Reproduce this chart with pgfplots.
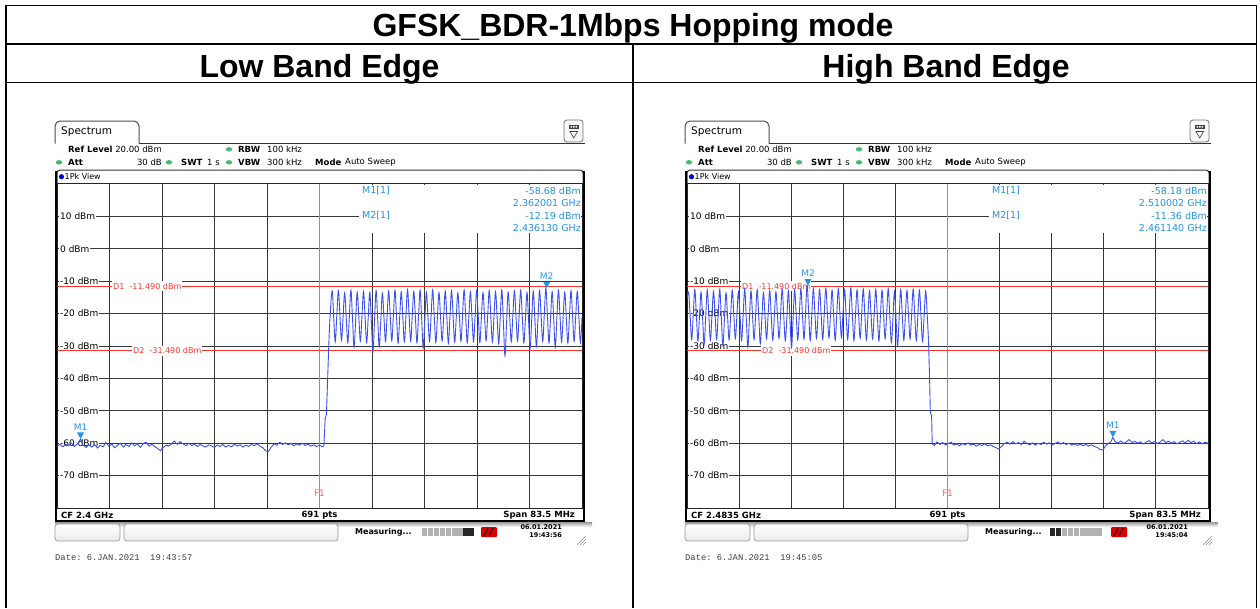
\documentclass[border=0pt]{standalone}
\usepackage{fontspec}
\setmainfont{Liberation Sans}
\newfontfamily\dv{DejaVu Sans}
\newfontfamily\mono{Liberation Mono}
\usepackage{pgfplots}
\pgfplotsset{compat=1.18}
\definecolor{trace}{RGB}{60,80,238}
\definecolor{dline}{RGB}{250,55,45}
\definecolor{mk}{RGB}{35,150,225}
\definecolor{fone}{RGB}{255,100,100}
\definecolor{led}{RGB}{70,185,110}
\newcommand\fs[1]{\fontsize{#1pt}{#1pt}\selectfont}
\pgfplotsset{spec/.style={scale only axis, height=324pt, ymin=-80, ymax=20,
  ytick={-70,-60,...,10}, grid=major, major grid style={black!78, line width=0.9pt},
  xticklabels={}, yticklabels={}, major tick length=0pt,
  axis line style={black!85, line width=1pt}, anchor=south west}}
\tikzset{lbl/.style={anchor=west, inner sep=0pt, font=\dv\fs{8.5}},
  lbb/.style={lbl, font=\dv\bfseries\fs{8.5}},
  mt/.style={anchor=west, inner sep=0pt, font=\dv\fs{9.5}, text=mk},
  yl/.style={anchor=west, xshift=2pt, fill=white, inner xsep=1pt, inner ysep=1.5pt, font=\dv\fs{9}},
  dl/.style={anchor=west, fill=white, inner xsep=1pt, inner ysep=2pt, text=dline, font=\dv\fs{8}}}
\newcommand\ylabels{%
  \node[yl] at (rel axis cs:0,0.9) {10 dBm};
  \node[yl] at (rel axis cs:0,0.8) {0 dBm};
  \node[yl] at (rel axis cs:0,0.7) {-10 dBm};
  \node[yl] at (rel axis cs:0,0.6) {-20 dBm};
  \node[yl] at (rel axis cs:0,0.5) {-30 dBm};
  \node[yl] at (rel axis cs:0,0.4) {-40 dBm};
  \node[yl] at (rel axis cs:0,0.3) {-50 dBm};
  \node[yl] at (rel axis cs:0,0.2) {-60 dBm};
  \node[yl] at (rel axis cs:0,0.1) {-70 dBm};}
\newcommand\dlines[2]{%
  \draw[dline, line width=1pt] (rel axis cs:0,0.6851) -- (rel axis cs:1,0.6851);
  \draw[dline, line width=1pt] (rel axis cs:0,0.4851) -- (rel axis cs:1,0.4851);
  \node[dl] at ([xshift=#1pt]rel axis cs:0,0.6851) {D1\ \ -11.490 dBm};
  \node[dl] at ([xshift=#2pt]rel axis cs:0,0.4851) {D2\ \ -31.490 dBm};}
\newcommand\mkr[3]{%
  \fill[mk] (axis cs:#1,#2) -- ([xshift=-3.5pt,yshift=6.5pt]axis cs:#1,#2) -- ([xshift=3.5pt,yshift=6.5pt]axis cs:#1,#2) -- cycle;
  \node[anchor=south, inner sep=0pt, text=mk, font=\dv\fs{9}] at ([yshift=8.5pt]axis cs:#1,#2) {#3};}
\newcommand\screen[9]{%
\begin{scope}[shift={(#1,0)}]
\draw[line width=1pt, black!70, rounded corners=5pt] (-2,-143.5) -- (-2,-121) -- (82,-121) -- (82,-143.5);
\node[lbl, font=\dv\fs{10.5}] at (4,-132) {Spectrum};
\draw[line width=1.6pt, black!80] (82,-143.5) -- ({#2+3},-143.5);
\draw[line width=0.8pt, black!55, fill=black!3, rounded corners=3pt] ({#2-18},-120) rectangle ({#2+1},-142);
\fill[black!75] ({#2-13},-124.5) rectangle ({#2-3.5},-129);
\fill[white] ({#2-11.5},-126) rectangle ({#2-10},-127.5) ({#2-9},-126) rectangle ({#2-7.5},-127.5) ({#2-6.5},-126) rectangle ({#2-5},-127.5);
\draw[black!75, line width=0.6pt] ({#2-12},-131.5) -- ({#2-4.5},-131.5) -- ({#2-8.25},-138) -- cycle;
\node[lbb] at (11,-149.3) {Ref Level};
\node[lbl, anchor=east] at (105,-149.3) {20.00 dBm};
\fill[led] (172,-149.3) ellipse (3.2pt and 2.2pt);
\node[lbb] at (181,-149.3) {RBW};
\node[lbl] at (210,-149.3) {100 kHz};
\fill[led] (2,-162.3) ellipse (3.2pt and 2.2pt);
\node[lbb] at (11,-162.3) {Att};
\node[lbl, anchor=east] at (105,-162.3) {30 dB};
\fill[led] (112,-162.3) ellipse (3.2pt and 2.2pt);
\node[lbb] at (124,-162.3) {SWT};
\node[lbl] at (150,-162.3) {1 s};
\fill[led] (172,-162.3) ellipse (3.2pt and 2.2pt);
\node[lbb] at (181,-162.3) {VBW};
\node[lbl] at (210,-162.3) {300 kHz};
\node[lbb] at (258,-162.3) {Mode};
\node[lbl] at (288,-162.3) {Auto Sweep};
\draw[line width=1pt, black!80, rounded corners=3pt] (0,-184) -- (0,-170) -- ({#2+1},-170) -- ({#2+1},-184);
\fill[blue!85!black] (4.5,-176.7) circle (2.6pt);
\node[lbl, font=\dv\fs{8}] at (7.5,-176.7) {1Pk View};
\fill[white] (302,-185) rectangle ({#2-0.6},-233);
\node[mt] at (305,-190.5) {M1[1]};
\node[mt] at (305,-215.5) {M2[1]};
\node[mt, anchor=east] at ({#2-1},-190.5) {#6};
\node[mt, anchor=east] at ({#2-1},-203) {#7};
\node[mt, anchor=east] at ({#2-1},-215.5) {#8};
\node[mt, anchor=east] at ({#2-1},-228) {#9};
\draw[line width=2.2pt, black] (-1,-171) -- (-1,-522);
\draw[line width=2.6pt, black] ({#2+1.8},-171) -- ({#2+1.8},-522);
\node[lbb] at (4,-515) {CF #3};
\node[lbb, anchor=center] at ({#2/2},-515) {691 pts};
\node[lbb, anchor=east] at ({#2-7},-515) {Span 83.5 MHz};
\draw[line width=2.2pt, black] (-2.1,-521.5) -- ({#2+3},-521.5);
\shade[top color=black!35, bottom color=white] (-2,-522.6) rectangle ({#2+10},-527);
\shadedraw[draw=black!40, line width=0.7pt, rounded corners=3pt, top color=white, bottom color=black!8] (-2,-524) rectangle (63,-541);
\shadedraw[draw=black!40, line width=0.7pt, rounded corners=3pt, top color=white, bottom color=black!8] (67,-524) rectangle (281,-541);
\node[lbl, font=\dv\bfseries\fs{8}] at (298,-532) {Measuring...};
\node[lbl, anchor=east, font=\dv\bfseries\fs{6.5}] at ({#2-20},-527.5) {06.01.2021};
\node[lbl, anchor=east, font=\dv\bfseries\fs{6.5}] at ({#2-20},-535.5) {#4};
\draw[black!45, line width=0.6pt] ({#2-5},-545) -- ({#2+4},-536) ({#2-2},-545) -- ({#2+4},-539) ({#2+1},-545) -- ({#2+4},-542);
\node[anchor=west, inner sep=0pt, font=\mono\fs{8.8}, text=black!75] at (-2,-557.5) {Date:~#5};
\fill[red!85!black, rounded corners=1pt] (424,-527) rectangle (440,-537);
\draw[black, line width=0.8pt] (427,-536) -- (431,-528) (432,-536) -- (436,-528);
\end{scope}}
\begin{document}
\begin{tikzpicture}[x=1pt,y=1pt]
\useasboundingbox (0,0) rectangle (1260,-608);
% table
\draw[line width=1.5pt] (6,-5.5) -- (1256.5,-5.5);
\draw[line width=1.5pt] (6,-44) -- (1256.5,-44);
\draw[line width=1.5pt] (6,-82.5) -- (1256.5,-82.5);
\draw[line width=1.5pt] (6,-4.75) -- (6,-608);
\draw[line width=1.5pt] (1256.5,-4.75) -- (1256.5,-608);
\draw[line width=1.5pt] (633,-44) -- (633,-608);
\node[anchor=base, inner sep=0pt, font=\bfseries\fs{32}] at (633,-36.5) {GFSK\_BDR-1Mbps Hopping mode};
\node[anchor=base, inner sep=0pt, font=\bfseries\fs{32}] at (319.5,-77.5) {Low Band Edge};
\node[anchor=base, inner sep=0pt, font=\bfseries\fs{32}] at (946,-77.5) {High Band Edge};

% ---------- left spectrum ----------
\begin{axis}[spec, at={(57pt,-508pt)}, width=525pt, xmin=2358.25, xmax=2441.75,
  xtick={2358.25,2366.6,2374.95,2383.3,2391.65,2400,2408.35,2416.7,2425.05,2433.4,2441.75}]
\draw[fone, line width=1pt] (axis cs:2400,-80) -- (axis cs:2400,20);
\ylabels
\dlines{55}{75}
\node[text=fone, font=\dv\fs{9}, inner sep=0pt] at (axis cs:2400,-75.4) {F1};
\addplot[trace, line width=0.9pt] coordinates {
(2358.25,-60.9) (2358.7,-60.4) (2359.2,-61.1) (2359.6,-60.3) (2360.1,-60.8) (2360.5,-59.9)
(2361.0,-61.0) (2361.5,-60.2) (2362.0,-58.7) (2362.4,-60.6) (2362.9,-61.3) (2363.3,-60.5)
(2363.8,-61.2) (2364.2,-60.4) (2364.7,-61.5) (2365.1,-60.7) (2365.6,-61.1) (2366.0,-59.8)
(2366.5,-60.9) (2367.0,-60.3) (2367.4,-61.4) (2367.9,-60.6) (2368.3,-60.0) (2368.8,-61.2)
(2369.2,-60.4) (2369.7,-61.0) (2370.1,-59.9) (2370.6,-60.8) (2371.0,-60.2) (2371.5,-61.3)
(2372.0,-60.1) (2372.4,-59.7) (2372.9,-60.9) (2373.3,-60.3) (2373.8,-61.0) (2374.2,-61.6)
(2374.7,-62.3) (2375.1,-61.4) (2375.6,-60.6) (2376.0,-60.9) (2376.5,-60.1) (2376.9,-59.3)
(2377.4,-60.4) (2377.8,-59.5) (2378.3,-60.2) (2378.8,-60.8) (2379.2,-60.0) (2379.7,-60.7)
(2380.1,-60.3) (2380.6,-61.0) (2381.0,-60.4) (2381.5,-60.9) (2381.9,-61.2) (2382.4,-60.5)
(2382.8,-60.8) (2383.3,-61.3) (2383.7,-60.6) (2384.2,-61.0) (2384.6,-60.4) (2385.1,-61.2)
(2385.5,-60.7) (2386.0,-61.1) (2386.5,-60.3) (2386.9,-60.9) (2387.4,-60.5) (2387.8,-61.2)
(2388.3,-60.6) (2388.7,-61.0) (2389.2,-60.4) (2389.6,-60.8) (2390.1,-60.2) (2390.5,-60.9)
(2391.0,-61.4) (2391.4,-62.3) (2391.9,-62.6) (2392.3,-61.2) (2392.8,-60.2) (2393.2,-60.6)
(2393.7,-59.7) (2394.1,-60.4) (2394.6,-59.9) (2395.0,-60.5) (2395.5,-60.1) (2395.9,-60.8)
(2396.4,-60.2) (2396.8,-60.6) (2397.3,-60.0) (2397.7,-60.7) (2398.2,-60.3) (2398.6,-60.9)
(2399.1,-60.5) (2399.5,-61.0) (2400.0,-60.6) (2400.4,-61.1) (2400.7,-60.8) (2400.9,-52.5)
(2401.1,-51.0) (2401.3,-40.0)};
\addplot[trace, line width=0.9pt, smooth, tension=0.6] coordinates {
(2401.3,-40.0) (2401.6,-24.0)
(2402,-13.0) (2402.25,-20.8) (2402.5,-28.7) (2402.75,-20.6)
(2403,-12.9) (2403.25,-20.5) (2403.5,-28.3) (2403.75,-21.0)
(2404,-13.6) (2404.25,-21.2) (2404.5,-29.0) (2404.75,-20.8)
(2405,-12.8) (2405.25,-21.6) (2405.5,-30.4) (2405.75,-21.9)
(2406,-13.4) (2406.25,-20.9) (2406.5,-28.5) (2406.75,-20.8)
(2407,-13.1) (2407.25,-21.0) (2407.5,-28.9) (2407.75,-21.2)
(2408,-13.5) (2408.25,-22.6) (2408.5,-31.8) (2408.75,-22.3)
(2409,-12.9) (2409.25,-21.5) (2409.5,-30.2) (2409.75,-21.9)
(2410,-13.7) (2410.25,-21.1) (2410.5,-28.6) (2410.75,-20.8)
(2411,-13.0) (2411.25,-20.7) (2411.5,-28.4) (2411.75,-20.6)
(2412,-12.8) (2412.25,-20.9) (2412.5,-29.1) (2412.75,-21.2)
(2413,-13.3) (2413.25,-21.0) (2413.5,-28.7) (2413.75,-20.6)
(2414,-12.6) (2414.25,-20.5) (2414.5,-28.5) (2414.75,-20.8)
(2415,-13.2) (2415.25,-21.1) (2415.5,-29.0) (2415.75,-20.9)
(2416,-12.8) (2416.25,-21.7) (2416.5,-30.6) (2416.75,-22.0)
(2417,-13.4) (2417.25,-21.0) (2417.5,-28.6) (2417.75,-20.6)
(2418,-12.7) (2418.25,-20.8) (2418.5,-28.9) (2418.75,-21.2)
(2419,-13.5) (2419.25,-20.9) (2419.5,-28.4) (2419.75,-21.1)
(2420,-13.0) (2420.25,-21.1) (2420.5,-29.2) (2420.75,-20.9)
(2421,-12.9) (2421.25,-20.8) (2421.5,-28.8) (2421.75,-21.2)
(2422,-13.6) (2422.25,-21.0) (2422.5,-28.5) (2422.75,-20.6)
(2423,-12.7) (2423.25,-20.8) (2423.5,-29.0) (2423.75,-21.1)
(2424,-13.3) (2424.25,-21.0) (2424.5,-28.6) (2424.75,-20.7)
(2425,-12.8) (2425.25,-20.8) (2425.5,-28.9) (2425.75,-21.2)
(2426,-13.5) (2426.25,-20.9) (2426.5,-28.3) (2426.75,-20.6)
(2427,-12.9) (2427.25,-20.8) (2427.5,-28.8) (2427.75,-21.0)
(2428,-13.2) (2428.25,-21.2) (2428.5,-29.3) (2428.75,-21.0)
(2429,-12.7) (2429.25,-22.8) (2429.5,-33.0) (2429.75,-23.0)
(2430,-13.4) (2430.25,-21.0) (2430.5,-28.7) (2430.75,-20.8)
(2431,-13.0) (2431.25,-20.7) (2431.5,-28.5) (2431.75,-20.6)
(2432,-12.8) (2432.25,-20.9) (2432.5,-29.0) (2432.75,-21.7)
(2433,-13.5) (2433.25,-22.0) (2433.5,-30.6) (2433.75,-21.8)
(2434,-13.1) (2434.25,-21.6) (2434.5,-30.1) (2434.75,-21.4)
(2435,-12.9) (2435.25,-20.7) (2435.5,-28.6) (2435.75,-20.4)
(2436,-12.2) (2436.25,-20.6) (2436.5,-29.0) (2436.75,-21.2)
(2437,-13.3) (2437.25,-21.8) (2437.5,-30.4) (2437.75,-21.5)
(2438,-12.8) (2438.25,-20.7) (2438.5,-28.7) (2438.75,-21.1)
(2439,-13.4) (2439.25,-21.2) (2439.5,-29.1) (2439.75,-21.0)
(2440,-12.9) (2440.25,-20.7) (2440.5,-28.5) (2440.75,-20.8)
(2441,-13.2) (2441.25,-21.1) (2441.5,-29.0) (2441.75,-21.0)};
\mkr{2362.001}{-58.68}{M1}
\mkr{2436.13}{-12.19}{M2}
\end{axis}

% ---------- right spectrum ----------
\begin{axis}[spec, at={(687pt,-508pt)}, width=521pt, xmin=2441.75, xmax=2525.25,
  xtick={2441.75,2450.1,2458.45,2466.8,2475.15,2483.5,2491.85,2500.2,2508.55,2516.9,2525.25}]
\draw[fone, line width=1pt] (axis cs:2483.5,-80) -- (axis cs:2483.5,20);
\ylabels
\dlines{54}{74}
\node[text=fone, font=\dv\fs{9}, inner sep=0pt] at (axis cs:2483.5,-75.4) {F1};
\addplot[trace, line width=0.9pt, smooth, tension=0.6] coordinates {
(2441.75,-15.5)
(2442,-13.3) (2442.25,-20.6) (2442.5,-28.0) (2442.75,-20.3)
(2443,-12.6) (2443.25,-20.5) (2443.5,-28.4) (2443.75,-20.9)
(2444,-13.4) (2444.25,-21.4) (2444.5,-29.4) (2444.75,-20.8)
(2445,-12.7) (2445.25,-20.5) (2445.5,-28.2) (2445.75,-20.5)
(2446,-13.1) (2446.25,-20.5) (2446.5,-27.9) (2446.75,-20.2)
(2447,-12.5) (2447.25,-21.2) (2447.5,-29.8) (2447.75,-21.7)
(2448,-13.6) (2448.25,-20.9) (2448.5,-28.1) (2448.75,-20.5)
(2449,-12.8) (2449.25,-20.3) (2449.5,-27.7) (2449.75,-20.5)
(2450,-13.2) (2450.25,-20.8) (2450.5,-28.3) (2450.75,-20.4)
(2451,-12.4) (2451.25,-21.4) (2451.5,-30.3) (2451.75,-21.7)
(2452,-13.0) (2452.25,-20.5) (2452.5,-28.0) (2452.75,-20.3)
(2453,-12.6) (2453.25,-21.0) (2453.5,-29.3) (2453.75,-21.4)
(2454,-13.5) (2454.25,-20.7) (2454.5,-27.8) (2454.75,-20.4)
(2455,-12.9) (2455.25,-20.6) (2455.5,-28.2) (2455.75,-20.6)
(2456,-13.3) (2456.25,-20.5) (2456.5,-27.6) (2456.75,-20.1)
(2457,-12.5) (2457.25,-20.5) (2457.5,-28.4) (2457.75,-21.5)
(2458,-13.0) (2458.25,-21.8) (2458.5,-30.5) (2458.75,-21.6)
(2459,-12.7) (2459.25,-20.4) (2459.5,-28.1) (2459.75,-20.3)
(2460,-12.4) (2460.25,-20.2) (2460.5,-27.9) (2460.75,-19.7)
(2461,-11.4) (2461.25,-19.9) (2461.5,-28.3) (2461.75,-20.3)
(2462,-12.3) (2462.25,-20.0) (2462.5,-27.7) (2462.75,-20.2)
(2463,-12.6) (2463.25,-20.3) (2463.5,-28.0) (2463.75,-19.9)
(2464,-12.2) (2464.25,-19.9) (2464.5,-27.5) (2464.75,-20.2)
(2465,-12.8) (2465.25,-20.5) (2465.5,-28.2) (2465.75,-20.3)
(2466,-12.3) (2466.25,-19.9) (2466.5,-27.4) (2466.75,-20.0)
(2467,-12.6) (2467.25,-20.3) (2467.5,-27.9) (2467.75,-20.0)
(2468,-12.1) (2468.25,-20.2) (2468.5,-28.3) (2468.75,-20.5)
(2469,-12.7) (2469.25,-20.2) (2469.5,-27.6) (2469.75,-19.9)
(2470,-12.4) (2470.25,-20.3) (2470.5,-28.1) (2470.75,-20.6)
(2471,-13.0) (2471.25,-20.4) (2471.5,-27.8) (2471.75,-20.2)
(2472,-12.5) (2472.25,-20.5) (2472.5,-28.4) (2472.75,-20.6)
(2473,-12.8) (2473.25,-20.3) (2473.5,-27.7) (2473.75,-20.0)
(2474,-12.3) (2474.25,-20.6) (2474.5,-28.9) (2474.75,-21.6)
(2475,-13.1) (2475.25,-21.6) (2475.5,-30.0) (2475.75,-21.3)
(2476,-12.6) (2476.25,-20.4) (2476.5,-28.2) (2476.75,-20.5)
(2477,-12.9) (2477.25,-20.4) (2477.5,-27.8) (2477.75,-20.2)
(2478,-12.5) (2478.25,-20.4) (2478.5,-28.3) (2478.75,-20.5)
(2479,-12.8) (2479.25,-20.7) (2479.5,-28.6) (2479.75,-20.8)
(2480,-13.0) (2480.25,-20.5) (2480.45,-28.0)};
\addplot[trace, line width=0.9pt] coordinates {
(2480.45,-28.0) (2480.6,-38.0) (2480.75,-50.5) (2480.95,-51.5) (2481.05,-60.3)
(2481.4,-60.7) (2481.8,-59.6) (2482.3,-60.4) (2482.7,-59.8) (2483.2,-60.5) (2483.6,-60.1)
(2484.1,-59.7) (2484.5,-60.6) (2485.0,-60.2) (2485.4,-60.8) (2485.9,-60.1) (2486.3,-60.5)
(2486.8,-59.9) (2487.2,-60.6) (2487.7,-60.3) (2488.1,-60.9) (2488.6,-60.4) (2489.0,-60.7)
(2489.5,-60.2) (2489.9,-60.8) (2490.4,-60.5) (2490.8,-61.0) (2491.3,-61.4) (2491.7,-61.8)
(2492.2,-60.9) (2492.6,-60.1) (2493.1,-59.7) (2493.5,-60.3) (2494.0,-59.5) (2494.4,-60.2)
(2494.9,-59.8) (2495.3,-60.4) (2495.8,-59.4) (2496.2,-60.1) (2496.7,-60.5) (2497.1,-59.9)
(2497.6,-60.6) (2498.0,-60.0) (2498.5,-60.4) (2498.9,-59.7) (2499.4,-60.3) (2499.8,-59.9)
(2500.3,-60.5) (2500.7,-60.1) (2501.2,-59.6) (2501.6,-60.3) (2502.1,-59.8) (2502.5,-60.4)
(2503.0,-60.0) (2503.4,-60.6) (2503.9,-60.2) (2504.3,-60.7) (2504.8,-60.3) (2505.2,-60.8)
(2505.7,-60.4) (2506.1,-60.9) (2506.6,-60.5) (2507.0,-61.0) (2507.5,-61.3) (2507.9,-61.9)
(2508.4,-62.1) (2508.8,-60.9) (2509.3,-60.0) (2509.7,-59.5) (2510.0,-58.2) (2510.4,-59.6)
(2510.8,-59.9) (2511.3,-59.3) (2511.7,-60.1) (2512.2,-59.5) (2512.6,-58.9) (2513.1,-59.8)
(2513.5,-59.4) (2514.0,-60.0) (2514.4,-59.6) (2514.9,-60.2) (2515.3,-59.7) (2515.8,-59.2)
(2516.2,-59.9) (2516.7,-59.5) (2517.1,-60.1) (2517.6,-59.6) (2518.0,-58.9) (2518.5,-59.8)
(2518.9,-59.4) (2519.4,-60.0) (2519.8,-59.5) (2520.3,-60.2) (2520.7,-59.7) (2521.2,-59.3)
(2521.6,-59.9) (2522.1,-59.1) (2522.5,-59.8) (2523.0,-59.4) (2523.4,-60.1) (2523.9,-59.6)
(2524.3,-60.2) (2524.8,-59.7) (2525.25,-60.0)};
\mkr{2510.002}{-58.18}{M1}
\mkr{2461.14}{-11.36}{M2}
\end{axis}

\screen{57}{525}{2.4 GHz}{19:43:56}{6.JAN.2021~~19:43:57}{-58.68 dBm}{2.362001 GHz}{-12.19 dBm}{2.436130 GHz}
\screen{687}{521}{2.4835 GHz}{19:45:04}{6.JAN.2021~~19:45:05}{-58.18 dBm}{2.510002 GHz}{-11.36 dBm}{2.461140 GHz}
% progress bars
\foreach \i in {0,...,6} \fill[black!30] ({57+365+\i*5.9},-528) rectangle ++(5.2,-8);
\foreach \i in {7,8} \fill[black!85] ({57+365+\i*5.9},-528) rectangle ++(5.2,-8);
\foreach \i in {0,1} \fill[black!85] ({687+363+\i*5.9},-528) rectangle ++(5.2,-8);
\foreach \i in {2,...,8} \fill[black!30] ({687+363+\i*5.9},-528) rectangle ++(5.2,-8);
\end{tikzpicture}
\end{document}
